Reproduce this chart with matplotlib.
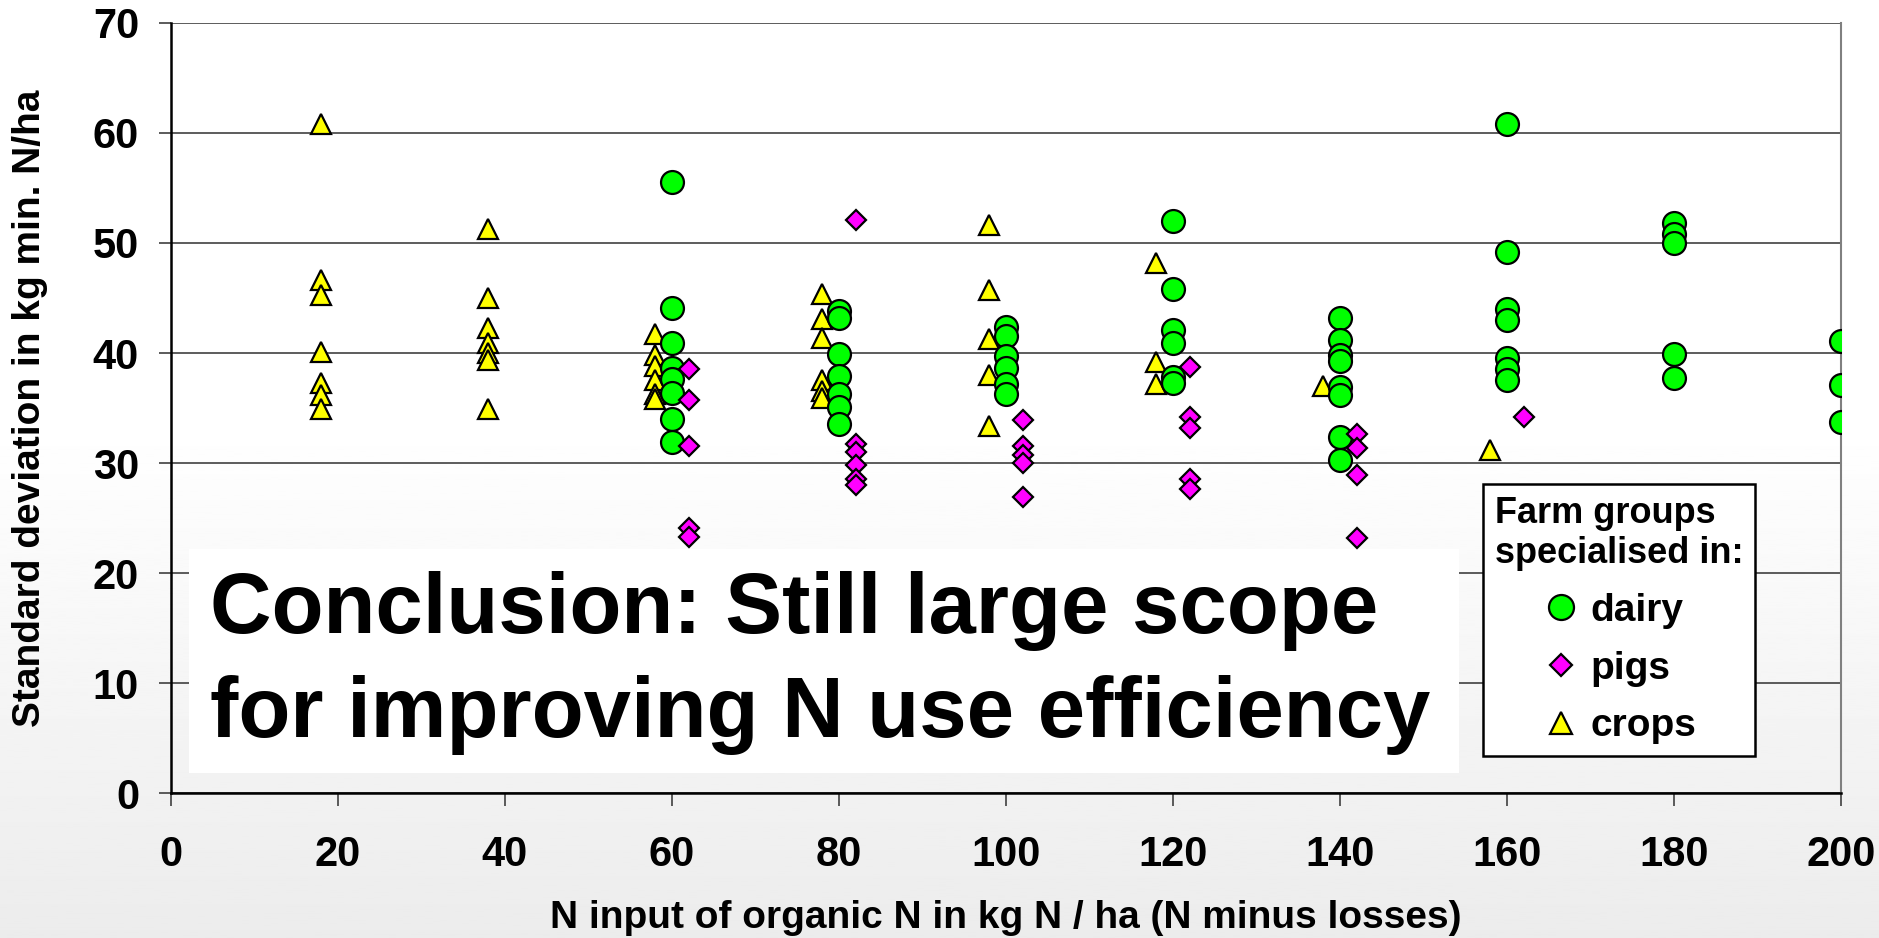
import numpy as np
import matplotlib
matplotlib.use("Agg")
import matplotlib.pyplot as plt
from matplotlib.lines import Line2D
from matplotlib.patches import Rectangle

plt.rcParams['font.family'] = ['Liberation Sans', 'DejaVu Sans']
plt.rcParams['font.weight'] = 'bold'

# N input (kg N/ha) and standard deviation per farm group
dairy_x = [60] * 8 + [80] * 7 + [100] * 6 + [120] * 6 + [140] * 8 + [160] * 7 + [180] * 5 + [200] * 3
dairy_y = [55.5, 44.1, 40.9, 38.6, 37.6, 36.4, 34.0, 31.9,
           43.8, 43.2, 39.9, 37.9, 36.3, 35.1, 33.5,
           42.4, 41.5, 39.7, 38.6, 37.2, 36.3,
           52.0, 45.8, 42.1, 40.9, 37.8, 37.3,
           43.2, 41.2, 39.8, 39.3, 36.9, 36.2, 32.4, 30.3,
           60.8, 49.2, 44.0, 43.0, 39.5, 38.5, 37.5,
           51.8, 50.8, 50.0, 39.9, 37.7,
           41.1, 37.1, 33.7]

pigs_x = [62] * 5 + [82] * 6 + [102] * 5 + [122] * 5 + [142] * 4 + [162]
pigs_y = [38.5, 35.7, 31.5, 24.1, 23.3,
          52.1, 31.7, 31.0, 29.8, 28.5, 28.0,
          33.9, 31.5, 30.7, 30.0, 26.9,
          38.7, 34.2, 33.2, 28.5, 27.6,
          32.6, 31.4, 28.9, 23.2,
          34.2]

crops_x = [18] * 7 + [38] * 7 + [58] * 6 + [78] * 6 + [98] * 5 + [118] * 3 + [138, 158]
crops_y = [60.8, 46.6, 45.3, 40.1, 37.3, 36.2, 34.9,
           51.3, 45.0, 42.3, 40.9, 40.0, 39.4, 34.9,
           41.7, 39.8, 38.8, 37.5, 36.3, 35.8,
           45.4, 43.1, 41.4, 37.5, 36.5, 35.9,
           51.6, 45.7, 41.3, 38.0, 33.4,
           48.2, 39.2, 37.2,
           37.0, 31.2]

x_ticks = list(range(0, 201, 20))
y_ticks = list(range(0, 71, 10))

W, H = 1879, 938
fig = plt.figure(figsize=(W / 100, H / 100), dpi=100)

# slide background: white at top, light grey towards the bottom
bg = fig.add_axes([0, 0, 1, 1], zorder=-1)
t = np.linspace(0, 1, 400)
shade = np.where(t < 0.45, 1.0, 1.0 - 0.075 * (t - 0.45) / 0.55)
bg.imshow(shade[:, None], aspect='auto', cmap='gray', vmin=0, vmax=1,
          extent=[0, 1, 0, 1])
bg.axis('off')

ax = fig.add_axes([171 / W, 1 - 793 / H, 1670 / W, 770 / H])
ax.set_facecolor('none')

ax.plot(crops_x, crops_y, ls='none', marker='^', ms=14.5, mfc='#ffff00',
        mec='black', mew=1.6, zorder=4)
ax.plot(dairy_x, dairy_y, ls='none', marker='o', ms=16.5, mfc='#00ff00',
        mec='black', mew=1.6, zorder=5)
ax.plot(pigs_x, pigs_y, ls='none', marker='D', ms=10, mfc='#ff00ff',
        mec='black', mew=1.6, zorder=6)

ax.set_xlim(0, 200)
ax.set_ylim(0, 70)
ax.set_xticks(x_ticks)
ax.set_yticks(y_ticks)
ax.yaxis.grid(True, color='#303030', lw=1.1)
ax.set_axisbelow(True)
ax.tick_params(axis='both', length=9, width=1.2, color='#404040',
               labelsize=30)
ax.tick_params(axis='x', pad=21)
ax.tick_params(axis='y', pad=14)
for s in ['left', 'bottom']:
    ax.spines[s].set_color('black')
    ax.spines[s].set_linewidth(1.8)
ax.spines['right'].set_color('#808080')
ax.spines['right'].set_linewidth(1.5)
ax.spines['top'].set_visible(False)

ax.set_xlabel('N input of organic N in kg N / ha (N minus losses)',
              fontsize=28, fontweight='bold', va='center')
ax.set_ylabel('Standard deviation in kg min. N/ha', fontsize=28,
              fontweight='bold', va='center')
ax.xaxis.set_label_coords(0.5, (793 - 918) / 770)
ax.yaxis.set_label_coords((30 - 171) / 1670, 0.5)

# conclusion text box
box = Rectangle(((189 - 171) / 1670, (793 - 773) / 770),
                (1459 - 189) / 1670, (773 - 549) / 770,
                transform=ax.transAxes, facecolor='white', edgecolor='none',
                zorder=3)
ax.add_patch(box)
ax.text((210 - 171) / 1670, (793 - 611) / 770, 'Conclusion: Still large scope',
        transform=ax.transAxes, fontsize=61.3, fontweight='bold', va='center',
        ha='left', zorder=7)
ax.text((210 - 171) / 1670, (793 - 715) / 770, 'for improving N use efficiency',
        transform=ax.transAxes, fontsize=61.3, fontweight='bold', va='center',
        ha='left', zorder=7)

handles = [
    Line2D([], [], ls='none', marker='o', ms=18, mfc='#00ff00', mec='black', mew=1.6),
    Line2D([], [], ls='none', marker='D', ms=11, mfc='#ff00ff', mec='black', mew=1.6),
    Line2D([], [], ls='none', marker='^', ms=16, mfc='#ffff00', mec='black', mew=1.6),
]
leg = ax.legend(handles, ['dairy', 'pigs', 'crops'],
                title='Farm groups\nspecialised in:',
                title_fontproperties={'size': 26, 'weight': 'bold'},
                prop={'size': 28, 'weight': 'bold'},
                loc='upper left', bbox_to_anchor=(1483 / W, 1 - 484 / H),
                bbox_transform=fig.transFigure,
                frameon=True, fancybox=False, edgecolor='black',
                framealpha=1, borderpad=0.3, labelspacing=0.56,
                handletextpad=0.25, handlelength=1.0, borderaxespad=0)
leg.get_frame().set_linewidth(1.8)
leg.set_zorder(8)

fig.savefig('out.png', dpi=100)
